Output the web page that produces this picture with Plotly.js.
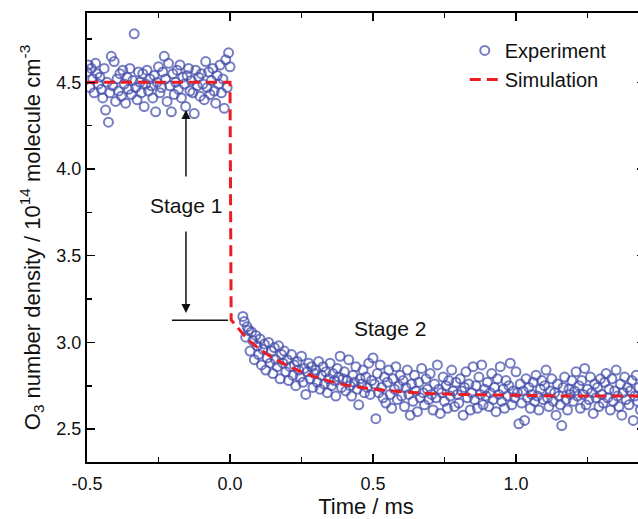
<!DOCTYPE html>
<html>
<head>
<meta charset="utf-8">
<script src="https://cdn.plot.ly/plotly-3.0.1.min.js"></script>
<style>
html, body { margin: 0; padding: 0; overflow: hidden; background: #fff; }
#chart { width: 650px; height: 519px; }
</style>
</head>
<body>
<div id="chart"></div>
<script>
// Experiment, stage 1: sampled every 0.005 ms starting at -0.5 ms
const expStage1Start = -0.5;
const expStep = 0.005;
const expStage1 = [
  4.56, 4.60, 4.47, 4.58, 4.52, 4.44, 4.61, 4.55, 4.49, 4.53,
  4.46, 4.41, 4.58, 4.34, 4.50, 4.27, 4.44, 4.65, 4.48, 4.62,
  4.39, 4.52, 4.45, 4.55, 4.42, 4.57, 4.49, 4.38, 4.53, 4.46,
  4.58, 4.43, 4.51, 4.78, 4.47, 4.40, 4.56, 4.50, 4.44, 4.55,
  4.36, 4.49, 4.57, 4.45, 4.52, 4.48, 4.41, 4.54, 4.33, 4.50,
  4.59, 4.44, 4.47, 4.56, 4.65, 4.52, 4.39, 4.61, 4.48, 4.33,
  4.55, 4.43, 4.50, 4.57, 4.46, 4.60, 4.41, 4.53, 4.49, 4.36,
  4.54, 4.58, 4.45, 4.51, 4.44, 4.32, 4.57, 4.48, 4.53, 4.42,
  4.55, 4.49, 4.40, 4.62, 4.47, 4.56, 4.43, 4.51, 4.58, 4.45,
  4.38, 4.54, 4.49, 4.60, 4.44, 4.52, 4.35, 4.63, 4.47, 4.67,
  4.59
];
// Experiment, stage 2: sampled every 0.005 ms starting at 0.045 ms
const expStage2Start = 0.045;
const expStage2 = [
  3.15, 3.12, 3.03, 3.09, 3.07, 2.95, 3.06, 3.01, 2.90, 3.04, 2.98,
  2.93, 3.02, 2.87, 2.96, 2.99, 2.84, 2.91, 3.00, 2.88, 2.95,
  2.82, 2.97, 2.90, 2.86, 2.98, 2.79, 2.93, 2.88, 2.95, 2.83,
  2.90, 2.78, 2.86, 2.93, 2.81, 2.87, 2.75, 2.89, 2.84, 2.80,
  2.92, 2.77, 2.85, 2.70, 2.83, 2.88, 2.79, 2.86, 2.74, 2.82,
  2.84, 2.77, 2.89, 2.73, 2.81, 2.86, 2.76, 2.83, 2.71, 2.79,
  2.88, 2.75, 2.82, 2.78, 2.69, 2.85, 2.80, 2.92, 2.74, 2.79,
  2.83, 2.72, 2.78, 2.90, 2.75, 2.69, 2.81, 2.77, 2.86, 2.73,
  2.64, 2.79, 2.76, 2.84, 2.71, 2.80, 2.74, 2.88, 2.70, 2.78,
  2.91, 2.76, 2.56, 2.82, 2.71, 2.87, 2.74, 2.68, 2.80, 2.65,
  2.77, 2.84, 2.70, 2.62, 2.79, 2.73, 2.86, 2.67, 2.75, 2.81,
  2.69, 2.78, 2.63, 2.74, 2.84, 2.70, 2.58, 2.76, 2.66, 2.81,
  2.72, 2.60, 2.77, 2.68, 2.85, 2.71, 2.64, 2.79, 2.73, 2.67,
  2.82, 2.70, 2.61, 2.76, 2.68, 2.87, 2.73, 2.59, 2.71, 2.80,
  2.66, 2.75, 2.62, 2.78, 2.69, 2.84, 2.72, 2.63, 2.77, 2.70,
  2.65, 2.79, 2.72, 2.58, 2.74, 2.83, 2.68, 2.76, 2.61, 2.71,
  2.86, 2.67, 2.75, 2.62, 2.80, 2.70, 2.87, 2.64, 2.73, 2.69,
  2.77, 2.63, 2.71, 2.82, 2.67, 2.74, 2.60, 2.79, 2.70, 2.86,
  2.66, 2.73, 2.62, 2.78, 2.69, 2.75, 2.88, 2.64, 2.72, 2.68,
  2.83, 2.71, 2.53, 2.76, 2.65, 2.72, 2.55, 2.79, 2.68, 2.74,
  2.62, 2.70, 2.77, 2.66, 2.81, 2.69, 2.61, 2.73, 2.78, 2.67,
  2.75, 2.84, 2.68, 2.63, 2.72, 2.79, 2.66, 2.71, 2.58, 2.76,
  2.69, 2.64, 2.52, 2.74, 2.80, 2.67, 2.61, 2.73, 2.70, 2.78,
  2.66, 2.72, 2.83, 2.69, 2.75, 2.62, 2.78, 2.70, 2.85, 2.64,
  2.73, 2.67, 2.80, 2.71, 2.59, 2.76, 2.68, 2.74, 2.63, 2.79,
  2.70, 2.65, 2.77, 2.82, 2.68, 2.73, 2.61, 2.79, 2.66, 2.72,
  2.84, 2.69, 2.63, 2.76, 2.58, 2.71, 2.80, 2.67, 2.74, 2.64,
  2.72, 2.78, 2.55, 2.69, 2.81, 2.66, 2.74, 2.61, 2.70, 2.77, 2.68
];
// Simulation curve
const simT = [-0.5, 0.0, 0.004, 0.03, 0.06, 0.1, 0.15, 0.2, 0.25, 0.3, 0.35, 0.4, 0.5, 0.6, 0.7, 0.8, 1.0, 1.2, 1.46];
const simY = [4.50, 4.50, 3.13, 3.08, 3.02, 2.965, 2.91, 2.865, 2.83, 2.80, 2.775, 2.755, 2.73, 2.715, 2.705, 2.70, 2.695, 2.69, 2.69];

// Tick labels
const xTickVals = [-0.5, 0.0, 0.5, 1.0];
const xTickText = ['-0.5', '0.0', '0.5', '1.0'];
const yTickVals = [2.5, 3.0, 3.5, 4.0, 4.5];
const yTickText = ['2.5', '3.0', '3.5', '4.0', '4.5'];

const FONT = 'Arial, "Liberation Sans", Helvetica, sans-serif';
const markerStyle = {
  symbol: 'circle-open', size: 9,
  color: 'rgba(66,76,170,0.72)',
  line: { width: 2, color: 'rgba(66,76,170,0.72)' }
};

const traces = [
  { type: 'scatter', mode: 'markers', name: 'Experiment', legendgroup: 'exp',
    x0: expStage1Start, dx: expStep, y: expStage1, marker: markerStyle },
  { type: 'scatter', mode: 'markers', name: 'Experiment', legendgroup: 'exp', showlegend: false,
    x0: expStage2Start, dx: expStep, y: expStage2, marker: markerStyle },
  { type: 'scatter', mode: 'lines', name: 'Simulation', x: simT, y: simY,
    line: { color: '#ec1c24', width: 3, dash: '11px,6px' } }
];

const axisCommon = {
  showline: true, linecolor: '#000', linewidth: 2, mirror: 'allticks',
  ticks: 'inside', ticklen: 8, tickwidth: 1.6, tickcolor: '#000',
  showgrid: false, zeroline: false,
  tickfont: { family: FONT, size: 18, color: '#111' },
  minor: { ticks: 'inside', ticklen: 5, tickwidth: 1.6, tickcolor: '#000', dtick: 0.25, showgrid: false }
};

const layout = {
  width: 650, height: 519,
  margin: { l: 87, r: 5, t: 13, b: 57 },
  paper_bgcolor: '#fff', plot_bgcolor: '#fff',
  font: { family: FONT, color: '#111' },
  showlegend: true,
  legend: { x: 0.677, y: 0.96, xanchor: 'left', yanchor: 'top', bgcolor: 'rgba(0,0,0,0)',
    font: { family: FONT, size: 20, color: '#111' }, tracegroupgap: 0 },
  xaxis: Object.assign({}, axisCommon, {
    range: [-0.5, 1.451], tickmode: 'array', tickvals: xTickVals, ticktext: xTickText,
    ticklabelstandoff: 4,
    title: { text: 'Time / ms', font: { family: FONT, size: 22, color: '#111' }, standoff: 10 }
  }),
  yaxis: Object.assign({}, axisCommon, {
    range: [2.31, 4.90], tickmode: 'array', tickvals: yTickVals, ticktext: yTickText,
    title: { text: 'O<sub>3</sub> number density / 10<sup>14</sup> molecule cm<sup>-3</sup>',
      font: { family: FONT, size: 22, color: '#111' }, standoff: 10 }
  }),
  annotations: [
    { x: -0.154, y: 3.792, xref: 'x', yref: 'y', text: 'Stage 1', showarrow: false,
      font: { family: FONT, size: 21, color: '#111' } },
    { x: 0.559, y: 3.082, xref: 'x', yref: 'y', text: 'Stage 2', showarrow: false,
      font: { family: FONT, size: 21, color: '#111' } },
    { x: -0.154, y: 4.34, ax: -0.154, ay: 3.948, xref: 'x', yref: 'y', axref: 'x', ayref: 'y',
      text: '', showarrow: true, arrowhead: 2, arrowsize: 1.2, arrowwidth: 1.5, arrowcolor: '#111' },
    { x: -0.154, y: 3.169, ax: -0.154, ay: 3.648, xref: 'x', yref: 'y', axref: 'x', ayref: 'y',
      text: '', showarrow: true, arrowhead: 2, arrowsize: 1.2, arrowwidth: 1.5, arrowcolor: '#111' }
  ],
  shapes: [
    { type: 'line', xref: 'x', yref: 'y', x0: -0.203, x1: -0.007, y0: 3.128, y1: 3.128,
      line: { color: '#111', width: 1.5 } }
  ]
};

Plotly.newPlot('chart', traces, layout, { displayModeBar: false, staticPlot: true });
</script>
</body>
</html>
